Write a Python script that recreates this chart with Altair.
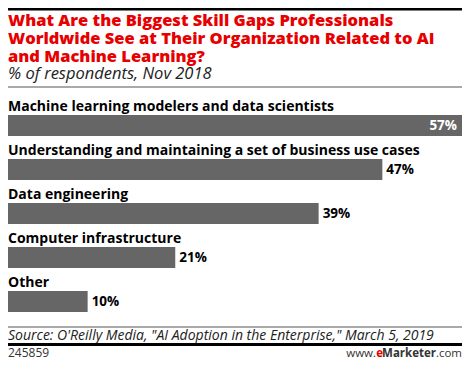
import altair as alt
import pandas as pd

categories = [
    "Machine learning modelers and data scientists",
    "Understanding and maintaining a set of business use cases",
    "Data engineering",
    "Computer infrastructure",
    "Other",
]
values = [57, 47, 39, 21, 10]
title_lines = [
    "What Are the Biggest Skill Gaps Professionals",
    "Worldwide See at Their Organization Related to AI",
    "and Machine Learning?",
]
subtitle = "% of respondents, Nov 2018"
source = "Source: O'Reilly Media, \"AI Adoption in the Enterprise,\" March 5, 2019"
chart_id = "245859"
brand = ["www.", "e", "Marketer", ".com"]

df = pd.DataFrame({"category": categories, "value": values})
df["label"] = df["value"].astype(str) + "%"

W, H = 454, 353
FONT = "Open Sans"

x = alt.X("value:Q", scale=alt.Scale(domain=[0, 57], range=[0, W]), axis=None)
y = alt.Y("category:N", sort=categories,
          scale=alt.Scale(range=[107, 304], paddingInner=23 / 44, paddingOuter=0),
          axis=None)

base = alt.Chart(df)
bars = base.mark_bar(color="#666666").encode(x=x, y=y)
cat_labels = base.mark_text(align="left", baseline="alphabetic", dy=-14.5, font=FONT,
                            fontWeight="bold", fontSize=14, color="#000000").encode(
    x=alt.value(0), y=y, text="category:N")
val_out = base.transform_filter("datum.value < 50").mark_text(
    align="left", baseline="middle", dx=4, font=FONT, fontWeight="bold",
    fontSize=13.5, color="#000000").encode(x=x, y=y, text="label:N")
val_in = base.transform_filter("datum.value >= 50").mark_text(
    align="right", baseline="middle", dx=-5, font=FONT, fontWeight="bold",
    fontSize=13.5, color="#ffffff").encode(x=x, y=y, text="label:N")


def txt(s, px, py, **kw):
    return alt.Chart(pd.DataFrame({"t": [s]})).mark_text(font=FONT, baseline="alphabetic", **kw).encode(
        x=alt.value(px), y=alt.value(py), text="t:N")


def band(py, py2, color, key):
    return alt.Chart(pd.DataFrame({"r": [key]})).mark_rect(color=color).encode(
        x=alt.value(0), x2=alt.value(W), y=alt.value(py), y2=alt.value(py2))


layers = [bars, cat_labels, val_out, val_in]
for i, line in enumerate(title_lines):
    layers.append(txt(line, 0, 17.5 + 18 * i, align="left", fontSize=16.5, fontWeight=800, color="#e60000"))
layers.append(txt(subtitle, 0, 71, align="left", fontSize=16.5, fontStyle="italic", color="#222222"))
layers.append(txt(source, 0, 332, align="left", fontSize=14, fontStyle="italic", color="#222222"))
layers.append(txt(chart_id, 0, 349, align="left", fontSize=12, color="#333333"))
layers.append(txt(brand[3], 454, 349, align="right", fontSize=11.5, color="#333333"))
layers.append(txt(brand[2], 428, 349, align="right", fontSize=11.5, fontWeight="bold", color="#333333"))
layers.append(txt(brand[1], 375, 349, align="right", fontSize=11.5, fontWeight="bold", color="#e60000"))
layers.append(txt(brand[0], 368, 349, align="right", fontSize=11.5, color="#333333"))
layers.append(band(78.5, 79.5, "#555555", 2))
layers.append(band(318.5, 319.5, "#555555", 3))
layers.append(band(335, 338, "#000000", 4))
layers.append(band(0, 2.5, "#000000", 1))

chart = alt.layer(*layers).properties(
    width=W, height=H, padding=0, autosize=alt.AutoSizeParams(type="none")
).configure_view(stroke=None)

chart.save("out.html", embed_options={"renderer": "svg", "actions": False})
